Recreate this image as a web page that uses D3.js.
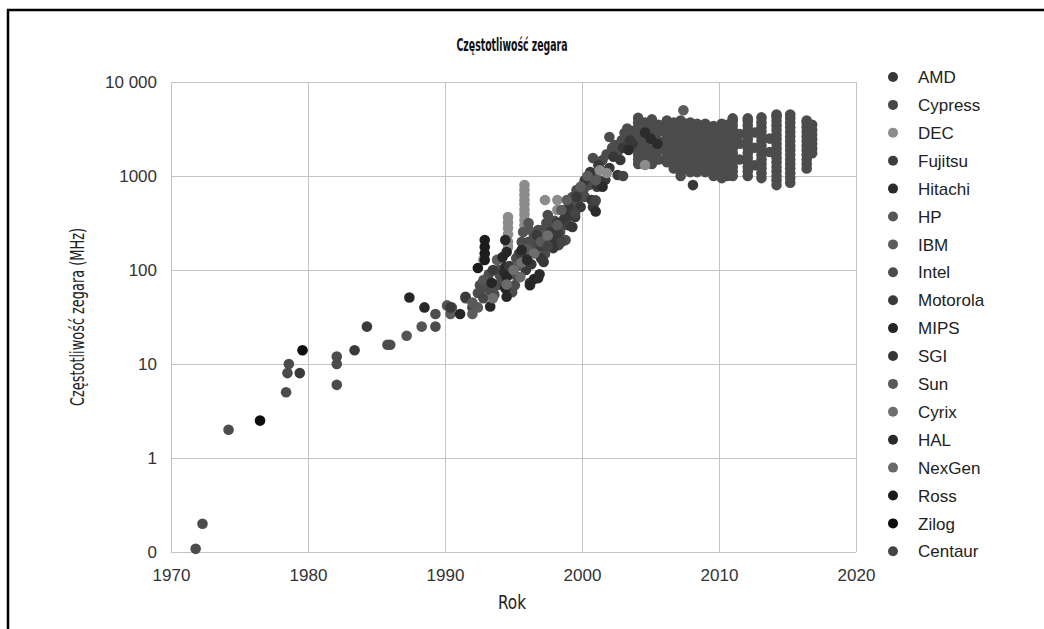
<!DOCTYPE html>
<html>
<head>
<meta charset="utf-8">
<script src="https://cdn.jsdelivr.net/npm/d3@7"></script>
<style>
  body { margin: 0; background: #fff; }
  .tick text { font-family: "Liberation Sans", Arial, sans-serif; font-size: 17px; fill: #333; }
  .tick line { stroke: #c4c4c4; }
</style>
</head>
<body>
<svg id="chart" width="1044" height="629"></svg>
<script>
// ---- data ----
const companies = ["AMD", "Cypress", "DEC", "Fujitsu", "Hitachi", "HP", "IBM", "Intel", "Motorola",
  "MIPS", "SGI", "Sun", "Cyrix", "HAL", "NexGen", "Ross", "Zilog", "Centaur"];
const colors = ["#383838", "#474747", "#8c8c8c", "#3d3d3d", "#2b2b2b", "#555555", "#5c5c5c", "#4c4c4c", "#3a3a3a",
  "#262626", "#363636", "#595959", "#6e6e6e", "#2a2a2a", "#6a6a6a", "#1c1c1c", "#0d0d0d", "#444444"];

// [year, MHz]
const amd = [[1996.2, 73], [1996.3, 115], [1997.2, 122], [1997.9, 171], [1998.2, 316], [1998.9, 366],
  [1999.0, 468], [1999.5, 366], [1999.9, 468], [2000.7, 556], [2000.8, 468], [2001.1, 770], [2001.7, 910],
  [2002.0, 1215], [2002.6, 1025], [2002.8, 1480], [2003.5, 2400], [2008.1, 800],
  [1995.9, 100], [1997.0, 133], [1997.6, 200], [1998.1, 233], [1998.7, 350], [1999.6, 600], [2000.2, 900],
  [2000.6, 1100], [2001.2, 1300], [2002.3, 1600], [2003.0, 2000], [2003.7, 2200]];
const cypress = [[1992.0, 40], [1992.8, 50]];
const dec = [[1995.8, 802], [1995.8, 710], [1995.8, 628], [1995.8, 556], [1995.8, 500], [1995.8, 440],
  [1995.8, 390], [1995.8, 340], [1995.8, 300], [1994.6, 366], [1994.6, 320], [1994.6, 280], [1994.6, 240],
  [1994.6, 200], [1994.6, 176], [1997.3, 556], [1998.2, 556], [1998.2, 435], [1992.8, 128],
  [2001.3, 1150], [2001.8, 1077], [2004.6, 1310]];
const fujitsu = [[1995.5, 150], [1997.0, 180], [1999.0, 300], [2000.9, 520]];
const hitachi = [[1994.4, 108], [1994.3, 95], [2001.0, 420], [2001.5, 770], [2003.4, 1890],
  [2004.6, 2900], [2005.0, 2500], [2005.5, 2200]];
const hp = [[1987.2, 20], [1988.3, 25], [1990.15, 42], [1990.5, 40], [1992.8, 78], [1995.7, 254],
  [1996.1, 270], [1996.1, 316], [1997.3, 236]];
const ibm = [[1990.4, 34], [1992.0, 34], [1992.4, 40], [1993.8, 128], [1998.5, 435], [1998.9, 556],
  [1999.9, 770], [2000.4, 1000], [2007.4, 5000]];
const intelEarly = [[1971.8, 0.108], [1972.3, 0.2], [1974.2, 2], [1978.4, 5], [1978.5, 8], [1978.6, 10],
  [1982.1, 6], [1982.1, 10], [1982.1, 12], [1985.8, 16], [1986.0, 16], [1989.3, 25], [1989.3, 34],
  [1991.5, 50], [1992.4, 57], [1992.55, 58], [1992.55, 69], [1993.3, 60], [1993.6, 55], [1993.8, 69],
  [1994.0, 88], [1994.9, 58], [1995.0, 100], [1995.1, 69], [1995.3, 84], [1995.5, 128], [1995.6, 199],
  [1996.1, 176], [1996.1, 200], [1996.6, 163], [1996.9, 184], [1997.3, 148], [1997.4, 316], [1997.5, 385],
  [1997.8, 219], [1998.3, 184], [1998.4, 254], [1998.8, 208], [1999.1, 500], [1999.3, 598], [1999.6, 710],
  [2000.1, 710], [2000.4, 980], [2000.8, 1550], [2001.5, 1480], [2002.0, 2600], [2002.4, 2140],
  [2002.6, 1800], [2003.1, 2860],
  [1993.0, 66], [1993.2, 90], [1993.9, 100], [1994.1, 75], [1994.8, 90], [1995.2, 133], [1995.4, 150],
  [1996.0, 150], [1996.3, 200], [1996.5, 233], [1996.8, 266], [1997.1, 266], [1997.6, 300], [1997.9, 266],
  [1998.0, 333], [1998.6, 300], [1999.0, 400], [1999.4, 450], [1999.7, 550], [2000.2, 600], [2000.5, 800],
  [2001.0, 1000], [2001.3, 1200], [2001.8, 1700], [2002.2, 2000], [2002.9, 2400], [2003.3, 3200],
  [2003.7, 3000]];
// [year, list of MHz] for the dense columns of 2004-2016
const intelColumns = [
  [2004.1, [1340, 1500, 1680, 1880, 2100, 2350, 2630, 2950, 3300, 3700, 4150]],
  [2004.6, [1500, 1880, 2350, 2950, 3700]],
  [2005.1, [1340, 1500, 1680, 1880, 2100, 2350, 2630, 2950, 3300, 3700, 4000]],
  [2005.6, [1500, 1880, 2350, 2950, 3500]],
  [2006.2, [1400, 1560, 1750, 1960, 2200, 2460, 2750, 3080, 3450, 3900]],
  [2006.7, [1200, 1340, 1500, 1680, 1880, 2100, 2350, 2630, 2950, 3300, 3700]],
  [2007.2, [1000, 1120, 1250, 1400, 1560, 1750, 1960, 2200, 2460, 2750, 3080, 3450, 3900]],
  [2007.6, [1200, 1500, 1900, 2400, 3000, 3600]],
  [2007.9, [1100, 1230, 1380, 1540, 1720, 1930, 2160, 2420, 2710, 3030, 3400, 3700]],
  [2008.4, [1100, 1230, 1380, 1540, 1720, 1930, 2160, 2420, 2710, 3030, 3400, 3600]],
  [2008.7, [1200, 1600, 2100, 2700, 3300]],
  [2009.0, [1100, 1230, 1380, 1540, 1720, 1930, 2160, 2420, 2710, 3030, 3400, 3600]],
  [2009.3, [1200, 1600, 2100, 2700, 3300]],
  [2009.6, [1000, 1120, 1250, 1400, 1560, 1750, 1960, 2200, 2460, 2750, 3080, 3400]],
  [2009.9, [1100, 1500, 2000, 2600, 3200]],
  [2010.2, [950, 1070, 1200, 1340, 1500, 1680, 1880, 2100, 2350, 2630, 2950, 3300, 3600]],
  [2010.6, [1000, 1120, 1250, 1400, 1560, 1750, 1960, 2200, 2460, 2750, 3080, 3500]],
  [2011.0, [1000, 1120, 1250, 1400, 1560, 1750, 1960, 2200, 2460, 2750, 3080, 3450, 3850, 4100]],
  [2011.5, [1500, 2200, 2800]],
  [2012.1, [1000, 1120, 1250, 1400, 1560, 1750, 1960, 2200, 2460, 2750, 3080, 3450, 3850, 4100]],
  [2012.6, [1300, 2000, 2900]],
  [2013.1, [950, 1070, 1200, 1340, 1500, 1680, 1880, 2100, 2350, 2630, 2950, 3300, 3700, 4200]],
  [2013.7, [1800, 2500]],
  [2014.2, [800, 900, 1000, 1120, 1250, 1400, 1560, 1750, 1960, 2200, 2460, 2750, 3080, 3450, 3850, 4300, 4500]],
  [2015.2, [850, 950, 1070, 1200, 1340, 1500, 1680, 1880, 2100, 2350, 2630, 2950, 3300, 3700, 4150, 4500]],
  [2016.4, [1200, 1340, 1500, 1680, 1880, 2100, 2350, 2630, 2950, 3300, 3700, 3900]],
  [2016.8, [1750, 1960, 2200, 2460, 2750, 3080, 3500]]
];
const motorola = [[1979.4, 8], [1983.4, 14], [1984.3, 25], [1990.4, 40], [1991.5, 52], [1993.5, 100],
  [1994.7, 110], [1996.7, 236], [1997.7, 254], [1998.2, 250]];
const mips = [[1987.4, 51], [1988.5, 40], [1991.1, 34], [1993.3, 41], [1993.4, 73], [1994.2, 137],
  [1994.4, 208], [1994.5, 155], [1994.5, 84], [1994.4, 64], [1994.5, 52], [1996.2, 69], [1996.5, 80]];
const sgi = [[1999.3, 287], [1998.2, 200]];
const sun = [[1992.0, 45], [1995.3, 110], [1996.0, 167], [1997.0, 200], [1998.2, 300], [2001.0, 900]];
const cyrix = [[1993.5, 50], [1995.0, 100], [1995.6, 120], [1996.5, 150], [1997.5, 233]];
const hal = [[1995.6, 163], [1996.8, 82], [1996.0, 128], [1996.9, 90]];
const nexgen = [[1994.5, 70], [1995.5, 84]];
const ross = [[1992.9, 208], [1992.9, 176], [1992.9, 150], [1992.9, 128], [1992.4, 105]];
const zilog = [[1976.5, 2.5], [1979.6, 14]];
const centaur = [[1997.5, 180], [1998.5, 200], [1999.5, 400], [2001.0, 550], [2003.0, 1000]];

const intel = intelEarly.concat(intelColumns.flatMap(([yr, vals]) => vals.map(v => [yr, v])));
const seriesPoints = [amd, cypress, dec, fujitsu, hitachi, hp, ibm, intel, motorola,
  mips, sgi, sun, cyrix, hal, nexgen, ross, zilog, centaur];

const xTicks = [1970, 1980, 1990, 2000, 2010, 2020];
const yTicks = [0.1, 1, 10, 100, 1000, 10000];
const yTickLabels = ["0", "1", "10", "100", "1000", "10 000"];

// ---- drawing ----
const svg = d3.select('#chart');
const plotLeft = 171, plotRight = 856, plotTop = 82, plotBottom = 552;
const condensed = '"DejaVu Sans Condensed", "Liberation Sans Narrow", sans-serif';

// outer frame (top and left)
svg.append('path')
  .attr('d', 'M8,629 V10 H1044')
  .attr('fill', 'none')
  .attr('stroke', '#000')
  .attr('stroke-width', 2.5);

const x = d3.scaleLinear().domain([1970, 2020]).range([plotLeft, plotRight]);
const y = d3.scaleLog().domain([0.1, 10000]).range([plotBottom, plotTop]);

svg.append('g')
  .attr('transform', `translate(0,${plotBottom})`)
  .call(d3.axisBottom(x).tickValues(xTicks).tickFormat(d3.format('d'))
    .tickSize(-(plotBottom - plotTop)).tickPadding(17))
  .call(g => g.select('.domain').remove());

svg.append('g')
  .attr('transform', `translate(${plotLeft},0)`)
  .call(d3.axisLeft(y).tickValues(yTicks).tickFormat((d, i) => yTickLabels[i])
    .tickSize(-(plotRight - plotLeft)).tickPadding(14))
  .call(g => g.select('.domain').remove());

// points: Intel underneath, others on top
const order = [7, 0, 1, 2, 3, 4, 5, 6, 8, 9, 10, 11, 12, 13, 14, 15, 16, 17];
order.forEach(i => {
  svg.append('g')
    .selectAll('circle')
    .data(seriesPoints[i])
    .enter()
    .append('circle')
    .attr('cx', d => x(d[0]))
    .attr('cy', d => y(d[1]))
    .attr('r', 5.3)
    .attr('fill', colors[i]);
});

// legend
const legend = svg.append('g');
companies.forEach((name, i) => {
  const ly = 77 + i * 27.9;
  legend.append('circle').attr('cx', 893).attr('cy', ly).attr('r', 5).attr('fill', colors[i]);
  legend.append('text')
    .attr('x', 918).attr('y', ly).attr('dy', '0.36em')
    .style('font-family', '"Liberation Sans", Arial, sans-serif')
    .style('font-size', '17px')
    .style('fill', '#222')
    .text(name);
});

// titles (condensed face squeezed to the reference width)
svg.append('text')
  .attr('x', 512).attr('y', 51)
  .attr('text-anchor', 'middle')
  .attr('textLength', 111).attr('lengthAdjust', 'spacingAndGlyphs')
  .style('font-family', condensed).style('font-weight', 'bold').style('font-size', '18px')
  .style('fill', '#111')
  .text('Częstotliwość zegara');

svg.append('text')
  .attr('x', 512).attr('y', 609)
  .attr('text-anchor', 'middle')
  .attr('textLength', 28).attr('lengthAdjust', 'spacingAndGlyphs')
  .style('font-family', condensed).style('font-size', '19px').style('fill', '#222')
  .text('Rok');

svg.append('text')
  .attr('transform', 'translate(84,317) rotate(-90)')
  .attr('text-anchor', 'middle')
  .attr('textLength', 178).attr('lengthAdjust', 'spacingAndGlyphs')
  .style('font-family', condensed).style('font-size', '19px').style('fill', '#222')
  .text('Częstotliwość zegara (MHz)');
</script>
</body>
</html>
